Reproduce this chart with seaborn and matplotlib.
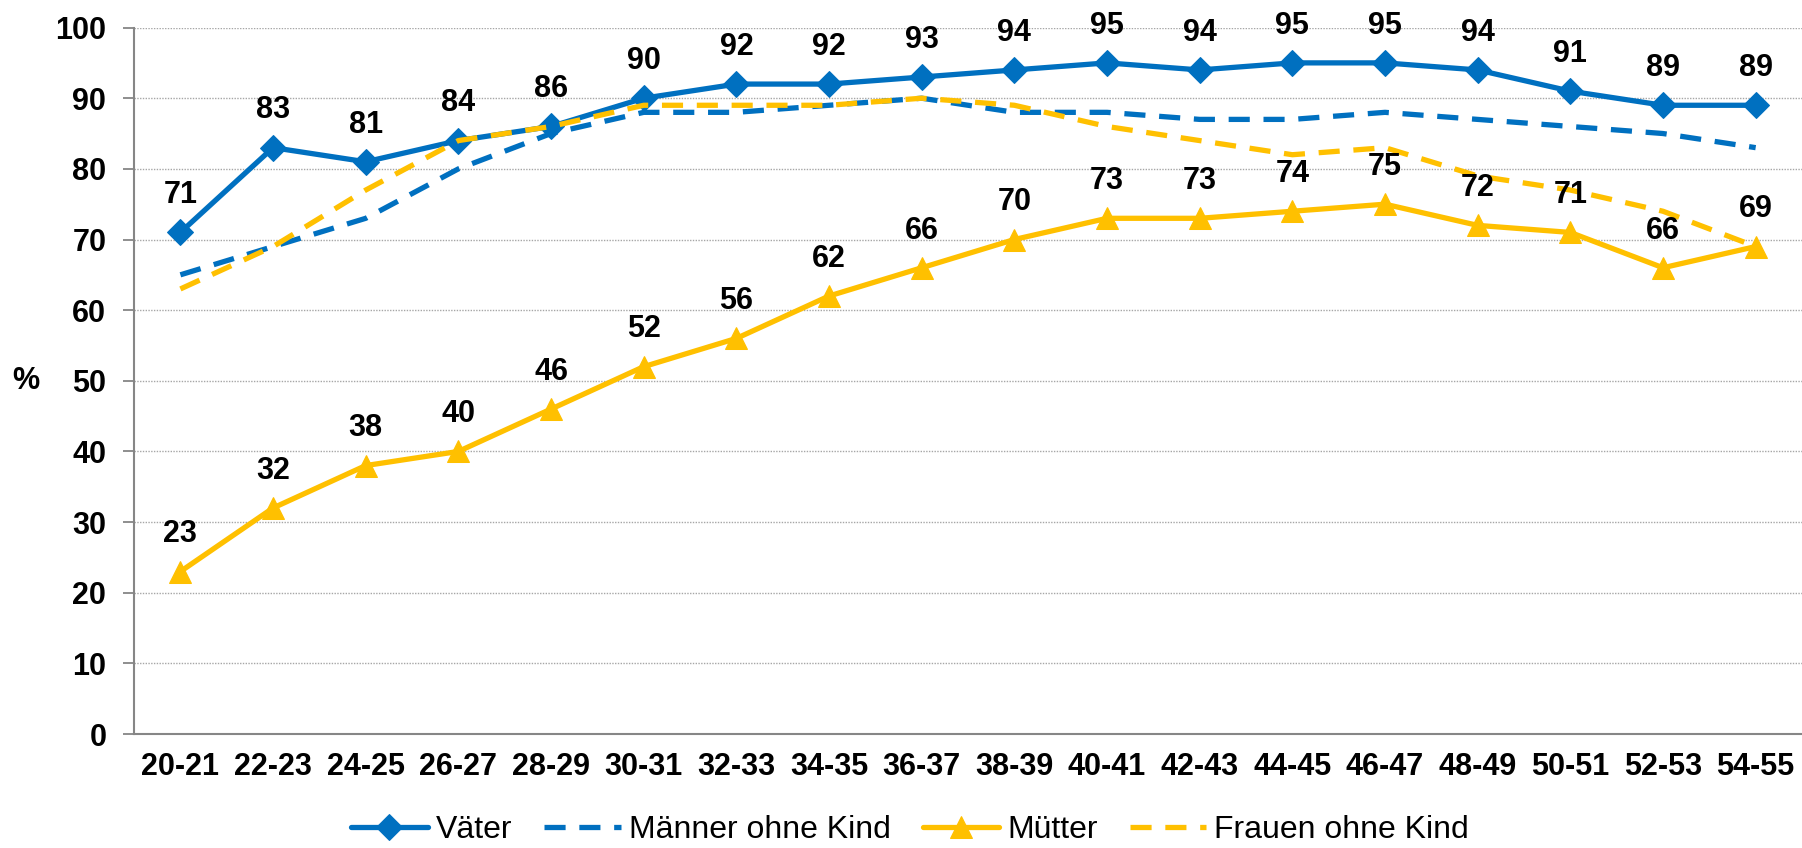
import matplotlib
matplotlib.use("Agg")
import matplotlib.pyplot as plt
import seaborn as sns
import numpy as np
import pandas as pd

# Age groups and employment rates (%)
age_groups = ["20-21", "22-23", "24-25", "26-27", "28-29", "30-31", "32-33", "34-35", "36-37",
              "38-39", "40-41", "42-43", "44-45", "46-47", "48-49", "50-51", "52-53", "54-55"]
vaeter = [71, 83, 81, 84, 86, 90, 92, 92, 93, 94, 95, 94, 95, 95, 94, 91, 89, 89]
maenner_ohne_kind = [65, 69, 73, 80, 85, 88, 88, 89, 90, 88, 88, 87, 87, 88, 87, 86, 85, 83]
muetter = [23, 32, 38, 40, 46, 52, 56, 62, 66, 70, 73, 73, 74, 75, 72, 71, 66, 69]
frauen_ohne_kind = [63, 69, 77, 84, 86, 89, 89, 89, 90, 89, 86, 84, 82, 83, 79, 77, 74, 69]
y_ticks = [0, 10, 20, 30, 40, 50, 60, 70, 80, 90, 100]

BLUE = "#0070C0"
GOLD = "#FFC000"
AXIS_GREY = "#868686"
FS = 22

sns.set_style("white")
plt.rcParams["font.family"] = ["Liberation Sans", "Arial", "DejaVu Sans"]
plt.rcParams["text.color"] = "black"
plt.rcParams["axes.labelcolor"] = "black"

fig = plt.figure(figsize=(18.02, 8.48), dpi=100)
ax = fig.add_axes([0.0744, 0.1344, 1.0 - 0.0744, 0.9675 - 0.1344])

pos = np.arange(len(age_groups))
df = pd.DataFrame({
    "pos": pos,
    "Väter": vaeter,
    "Männer ohne Kind": maenner_ohne_kind,
    "Mütter": muetter,
    "Frauen ohne Kind": frauen_ohne_kind,
})

lw = 3.8
dash = (0, (4, 2.6))
sns.lineplot(data=df, x="pos", y="Väter", ax=ax, color=BLUE, linewidth=lw,
             marker="D", markersize=13, markeredgecolor=BLUE, label="Väter", zorder=3)
sns.lineplot(data=df, x="pos", y="Männer ohne Kind", ax=ax, color=BLUE, linewidth=lw,
             linestyle=dash, dash_capstyle="butt", label="Männer ohne Kind", zorder=4)
sns.lineplot(data=df, x="pos", y="Mütter", ax=ax, color=GOLD, linewidth=lw,
             marker="^", markersize=16, markeredgecolor=GOLD, label="Mütter", zorder=5)
sns.lineplot(data=df, x="pos", y="Frauen ohne Kind", ax=ax, color=GOLD, linewidth=lw,
             linestyle=dash, dash_capstyle="butt", label="Frauen ohne Kind", zorder=6)

# Value labels for parents
for series in (vaeter, muetter):
    for x, v in zip(pos, series):
        ax.annotate(f"{v}", (x, v), xytext=(0, 21), textcoords="offset points",
                    ha="center", va="baseline", fontsize=FS, fontweight="bold",
                    color="black", zorder=10)

# Axes styling
ax.set_xlim(-0.5, 17.44)
ax.set_ylim(0, 100)
ax.set_yticks(y_ticks)
ax.set_yticklabels([str(t) for t in y_ticks], fontsize=FS, fontweight="bold")
ax.set_xticks(pos)
ax.set_xticklabels(age_groups, fontsize=FS, fontweight="bold")
ax.set_xticks(np.arange(-0.5, 18.0, 1.0), minor=True)
ax.tick_params(axis="x", which="major", length=0, pad=13, labelcolor="black")
ax.tick_params(axis="x", which="minor", length=9, width=1.3, color=AXIS_GREY, direction="out")
ax.tick_params(axis="y", which="major", length=8, width=1.3, color=AXIS_GREY,
               direction="out", pad=12, left=True, labelcolor="black")
ax.set_xlabel("")
ax.set_ylabel("%", rotation=0, fontsize=FS, fontweight="bold", ha="center", va="center")
ax.yaxis.set_label_coords(-0.065, 0.5)

ax.grid(axis="y", color="#a6a6a6", linestyle=(0, (1, 1)), linewidth=1.0)
ax.grid(axis="x", visible=False)
ax.set_axisbelow(True)
for side in ("top", "right"):
    ax.spines[side].set_visible(False)
for side in ("left", "bottom"):
    ax.spines[side].set_color(AXIS_GREY)
    ax.spines[side].set_linewidth(1.5)

# Legend along the bottom edge of the figure
handles, labels = ax.get_legend_handles_labels()
ax.legend_.remove() if ax.legend_ is not None else None
leg = fig.legend(handles, labels, loc="lower center", bbox_to_anchor=(0.505, 0.0),
                 ncol=4, frameon=False, fontsize=23, handlelength=2.4, handletextpad=0.25,
                 columnspacing=1.0, borderaxespad=0.0, borderpad=0.1)
for t in leg.get_texts():
    t.set_color("black")

fig.savefig("out.png", dpi=100)
